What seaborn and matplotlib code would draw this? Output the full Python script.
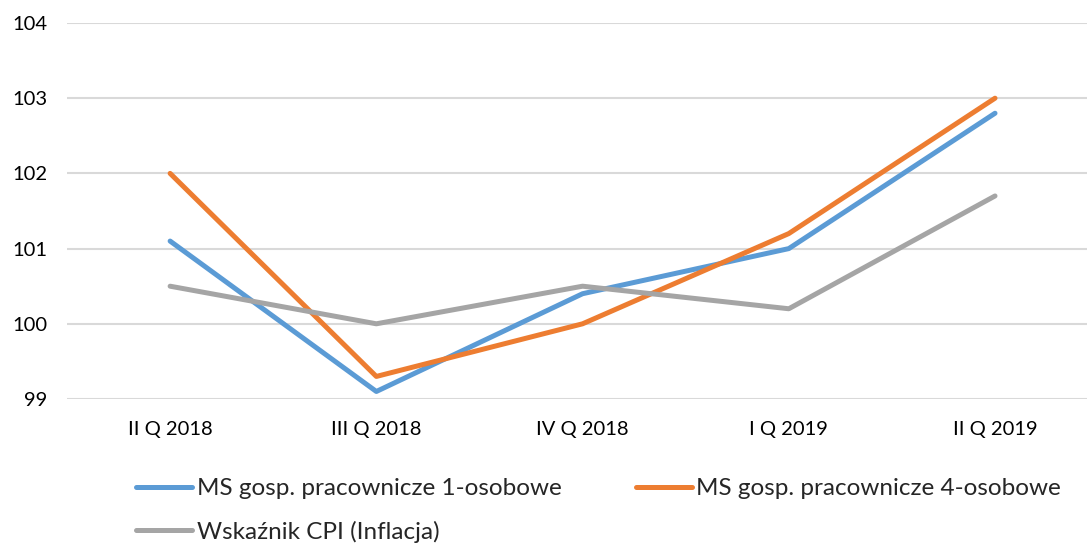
import matplotlib
matplotlib.use("Agg")
import matplotlib.pyplot as plt
import seaborn as sns
import pandas as pd

categories = ["II Q 2018", "III Q 2018", "IV Q 2018", "I Q 2019", "II Q 2019"]
series_names = ["MS gosp. pracownicze 1-osobowe", "MS gosp. pracownicze 4-osobowe", "Wskaźnik CPI (Inflacja)"]
ms1 = [101.1, 99.1, 100.4, 101.0, 102.8]
ms4 = [102.0, 99.3, 100.0, 101.2, 103.0]
cpi = [100.5, 100.0, 100.5, 100.2, 101.7]
y_ticks = [99, 100, 101, 102, 103, 104]

colors = ["#5B9BD5", "#ED7D31", "#A5A5A5"]

rows = []
for name, vals in zip(series_names, [ms1, ms4, cpi]):
    for c, v in zip(categories, vals):
        rows.append({"kw": c, "val": v, "seria": name})
df = pd.DataFrame(rows)

sns.set_theme(style="white")
plt.rcParams["font.family"] = ["Lato", "DejaVu Sans"]

fig = plt.figure(figsize=(10.87, 5.44), dpi=100)
ax = fig.add_axes([67/1087, (544-399)/544, (1087-67)/1087, 376/544])

sns.lineplot(data=df, x="kw", y="val", hue="seria", hue_order=series_names,
             palette=colors, sort=False, linewidth=3.6, ax=ax,
             solid_capstyle="round", solid_joinstyle="round")

ax.set_xlim(-0.5, 4.446)
ax.set_ylim(99, 104)
ax.set_yticks(y_ticks)
ax.set_yticklabels([str(t) for t in y_ticks])
ax.yaxis.grid(True, color="#D9D9D9", linewidth=1.5)
ax.xaxis.grid(False)
ax.set_axisbelow(True)
for s in ax.spines.values():
    s.set_visible(False)
ax.tick_params(axis="both", length=0, labelsize=14.5, colors="#000000")
ax.tick_params(axis="y", pad=14)
ax.tick_params(axis="x", pad=16)
ax.set_xlabel("")
ax.set_ylabel("")

handles, labels = ax.get_legend_handles_labels()
ax.get_legend().remove()
order = [0, 2, 1]
leg = fig.legend([handles[i] for i in order], [labels[i] for i in order],
                 ncol=2, loc="upper left", bbox_to_anchor=(136/1087, 1 - 478/544),
                 frameon=False, fontsize=17.5, handlelength=2.3, handletextpad=0.2,
                 columnspacing=3.05, labelspacing=0.9, borderaxespad=0, borderpad=0)
for h in leg.get_lines():
    h.set_linewidth(3.6)

fig.savefig("out.png", dpi=100)
